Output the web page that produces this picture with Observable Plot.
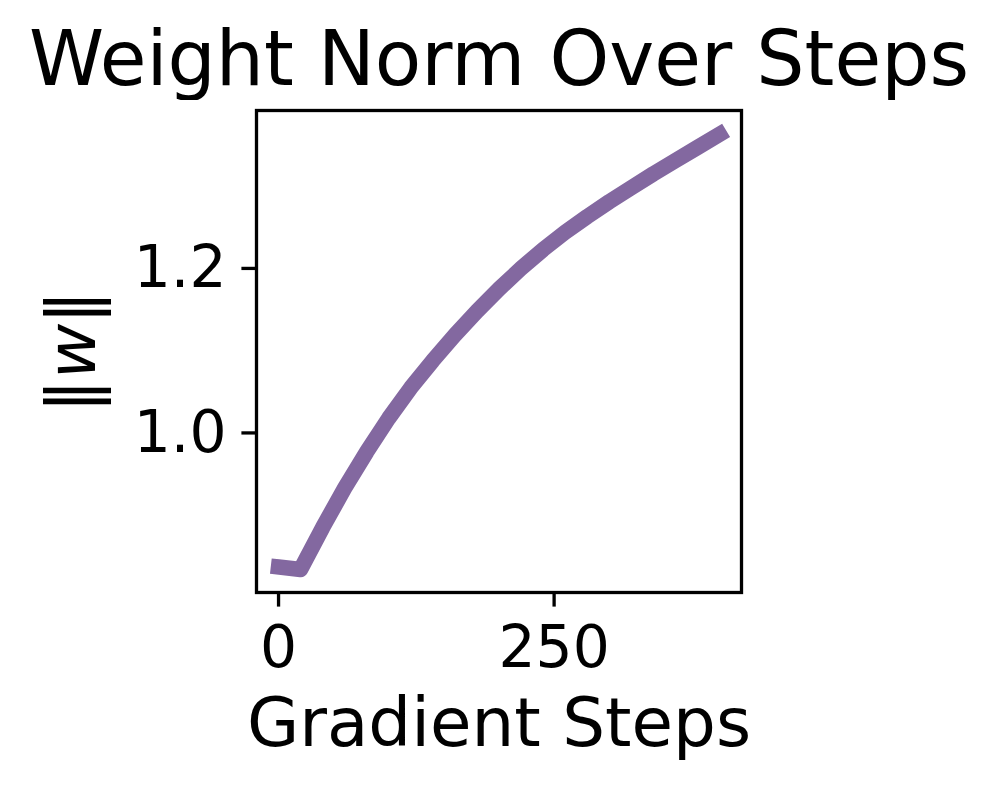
<!DOCTYPE html>
<html>
<head>
<meta charset="utf-8">
<script src="https://cdn.jsdelivr.net/npm/d3@7"></script>
<script src="https://cdn.jsdelivr.net/npm/@observablehq/plot@0.6"></script>
<style>
  html, body { margin: 0; padding: 0; background: #fff; }
  #wrap { position: relative; width: 998px; height: 790px; font-family: "DejaVu Sans", sans-serif; }
  #title { position: absolute; left: 0; top: 21px; width: 998px; text-align: center;
           font-size: 76px; line-height: 76px; color: #000; white-space: nowrap; }
  #chart { position: absolute; left: 0; top: 100px; }
</style>
</head>
<body>
<div id="wrap">
  <div id="title">Weight Norm Over Steps</div>
  <div id="chart"></div>
</div>
<script>
// Data
const steps = [0, 20, 40, 60, 80, 100, 120, 140, 160, 180, 200, 220, 240, 260, 280, 300, 320, 340, 360, 380, 400];
const weightNorm = [0.837, 0.834, 0.885, 0.933, 0.977, 1.018, 1.055, 1.088, 1.119, 1.148, 1.175, 1.200, 1.223, 1.244, 1.263, 1.281, 1.298, 1.315, 1.331, 1.347, 1.363];
const xTicks = [0, 250];
const yTicks = [1.0, 1.2];
const titleText = "Weight Norm Over Steps";
const xLabel = "Gradient Steps";
const yLabel = "‖w‖";

const data = steps.map((s, i) => ({step: s, norm: weightNorm[i]}));

const FS_TICK = 58.3, FS_LABEL = 67.5;
const LW = 3.3;

const plot = Plot.plot({
  width: 998,
  height: 690,
  marginLeft: 256,
  marginRight: 257,
  marginTop: 10,
  marginBottom: 198,
  style: {fontFamily: "DejaVu Sans", color: "#000", background: "#fff"},
  x: {domain: [-20, 420]},
  y: {domain: [0.806, 1.392]},
  marks: [
    Plot.line(data, {x: "step", y: "norm", stroke: "#8368a0", strokeWidth: 15.5,
      strokeLinecap: "square", strokeLinejoin: "round"}),
    Plot.frame({stroke: "#000", strokeWidth: LW}),
    Plot.axisX({ticks: xTicks, tickSize: 14.6, tickPadding: 18, fontSize: FS_TICK,
      strokeWidth: LW, label: null, tickFormat: d => String(d)}),
    Plot.axisY({ticks: yTicks, tickSize: 14.6, tickPadding: 15.4, fontSize: FS_TICK,
      strokeWidth: LW, label: null, tickFormat: d => d.toFixed(1)}),
    Plot.text([xLabel], {frameAnchor: "bottom", dy: 105.6, lineAnchor: "top",
      text: d => d, fontSize: FS_LABEL, fill: "#000"}),
    Plot.text([yLabel], {frameAnchor: "left", dx: -183, rotate: -90, lineAnchor: "middle",
      textAnchor: "middle", text: d => d, fontSize: FS_LABEL, fill: "#000"})
  ]
});

document.getElementById("chart").appendChild(plot);
document.getElementById("title").textContent = titleText;

// italic w in the y label (matplotlib mathtext style)
d3.select(plot).selectAll("text").filter(function() { return this.textContent === yLabel; })
  .each(function() {
    const t = d3.select(this);
    t.text(null);
    t.append("tspan").text("‖");
    t.append("tspan").style("font-style", "italic").text("w");
    t.append("tspan").text("‖");
  });
</script>
</body>
</html>
